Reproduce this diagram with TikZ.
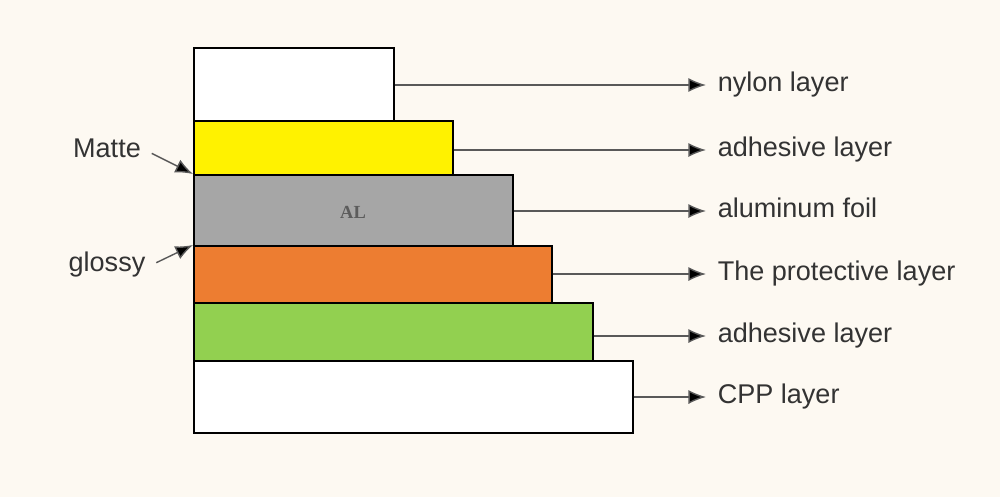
\documentclass[tikz,border=0pt]{standalone}
\usepackage{fontspec}
\setmainfont{Liberation Sans}
\newfontfamily\alfont{Liberation Serif}
\usepackage{xcolor}
\usetikzlibrary{positioning,arrows.meta}
\definecolor{bgcream}{HTML}{FDF9F2}
\definecolor{foilgray}{HTML}{A6A6A6}
\definecolor{protorange}{HTML}{ED7D31}
\definecolor{gluegreen}{HTML}{92D050}
\definecolor{txtgray}{HTML}{333333}

\begin{document}
\begin{tikzpicture}[x=0.02cm, y=-0.02cm,
    layer/.style={draw=black, line width=0.9pt, anchor=north west, inner sep=0pt},
    txt/.style={text=txtgray, text height=0.72em, text depth=0pt, font=\fontsize{15.4}{18}\selectfont},
    lbl/.style={txt, anchor=west, inner xsep=6.5pt, inner ysep=1pt},
    arr/.style={draw=black!65, line width=0.8pt, -{Latex[length=10pt, width=8pt, fill=black]}, shorten <=0pt}]
        % Hintergrund und Rahmen
        \fill[bgcream] (0,0) rectangle (1000,497);
        \useasboundingbox (0,0) rectangle (1000,497);
        % Schichten von oben nach unten
        \node[layer, fill=white, minimum width=4.00cm, minimum height=1.46cm] (nylon) at (193,47) {};
        \node[layer, fill=yellow, minimum width=5.18cm, minimum height=1.08cm] (glue1) at (193,120) {};
        \node[layer, fill=foilgray, minimum width=6.38cm, minimum height=1.42cm] (al) at (193,174) {};
        \node[layer, fill=protorange, minimum width=7.16cm, minimum height=1.14cm] (prot) at (193,245) {};
        \node[layer, fill=gluegreen, minimum width=7.98cm, minimum height=1.16cm] (glue2) at (193,302) {};
        \node[layer, fill=white, minimum width=8.78cm, minimum height=1.44cm] (cpp) at (193,360) {};
        \node[text=txtgray!80, font=\alfont\bfseries\fontsize{10.5}{12}\selectfont] (altxt) at (353,212) {AL};
        % Beschriftungen rechts
        \node[lbl] (nylonlbl) at (706,85) {nylon layer};
        \node[lbl] (glue1lbl) at (706,150) {adhesive layer};
        \node[lbl] (allbl) at (706,211) {aluminum foil};
        \node[lbl] (protlbl) at (706,274) {The protective layer};
        \node[lbl] (glue2lbl) at (706,336) {adhesive layer};
        \node[lbl] (cpplbl) at (706,397) {CPP layer};
        \foreach \s in {nylon, glue1, al, prot, glue2, cpp}
          \draw[arr] (\s lbl.west -| \s.east) -- (\s lbl.west);
        % Matte / glossy links
        \node[txt] (matte) at (107,151) {Matte};
        \node[txt] (glossy) at (107,265) {glossy};
        \draw[arr, shorten <=3pt] (matte.east) -- (al.north west);
        \draw[arr, shorten <=3pt] (glossy.east) -- (prot.north west);
    \end{tikzpicture}
\end{document}
